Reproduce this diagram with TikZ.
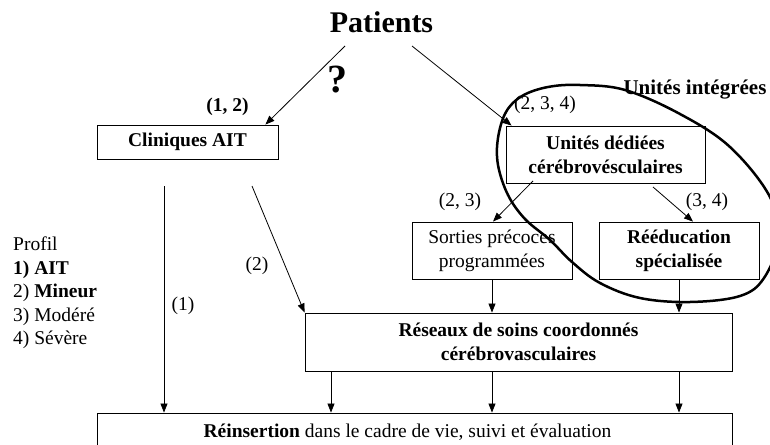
\documentclass[tikz,border=0pt]{standalone}
\usepackage{fontspec}
\setmainfont{Liberation Serif}
\usetikzlibrary{arrows.meta}
\begin{document}
\begin{tikzpicture}[x=1pt,y=-1pt,
  box/.style={draw, line width=0.9pt, inner sep=0pt, align=center, font=\fontsize{19.5}{24}\selectfont},
  arr/.style={line width=0.8pt, -{Triangle[length=9pt,width=7pt]}},
  lbl/.style={inner sep=0pt, anchor=base, font=\fontsize{19.5}{24}\selectfont},
  prof/.style={inner sep=0pt, anchor=base west, font=\fontsize{19.5}{24}\selectfont},
  ring/.style={line width=2.5pt},
]
\useasboundingbox (0,0) rectangle (770,444);
\clip (0,0) rectangle (770,444);

% boxes
\node[box, minimum width=181pt, minimum height=34pt] (clin) at (187.5,142) {\textbf{Cliniques AIT}};
\node[box, minimum width=199pt, minimum height=57pt] (unit) at (605.5,154.5) {\textbf{Unités dédiées}\\\textbf{cérébrovésculaires}};
\node[box, minimum width=160pt, minimum height=57pt] (sort) at (492,250.5) {Sorties précoces\\programmées};
\node[box, minimum width=160pt, minimum height=57pt] (reed) at (679,250.5) {\textbf{Rééducation}\\\textbf{spécialisée}};
\node[box, minimum width=427pt, minimum height=58pt] (res) at (518.5,342) {\textbf{Réseaux de soins coordonnés}\\\textbf{cérébrovasculaires}};
\node[box, minimum width=635pt, minimum height=39pt] (rein) at (414.5,432.5) {\textbf{Réinsertion} dans le cadre de vie, suivi et évaluation\hspace*{14pt}};

% titles and labels
\node[inner sep=0pt, anchor=base, font=\fontsize{30}{34}\selectfont\bfseries] (pat) at (381.5,33) {Patients};
\node[inner sep=0pt, anchor=base, font=\fontsize{40}{44}\selectfont\bfseries] (qm) at (337,92) {?};
\node[lbl] (l12) at (227.5,111) {\textbf{(1, 2)}};
\node[lbl] (l234) at (545,109) {(2, 3, 4)};
\node[lbl, font=\fontsize{21}{24}\selectfont\bfseries] (ui) at (695,94) {Unités intégrées};
\node[lbl] (l23) at (460,206) {(2, 3)};
\node[lbl] (l34) at (707,206) {(3, 4)};
\node[lbl] (l1) at (183,310) {(1)};
\node[lbl] (l2) at (257,270) {(2)};

% profile legend
\node[prof] (pr0) at (13,250) {Profil};
\node[prof] (pr1) at (13,274) {\textbf{1) AIT}};
\node[prof] (pr2) at (13,297.5) {2) \textbf{Mineur}};
\node[prof] (pr3) at (13,321) {3) Modéré};
\node[prof] (pr4) at (13,344.5) {4) Sévère};

% free ends
\coordinate (p1s) at (345,46);
\coordinate (p2s) at (412,46);
\coordinate (c1s) at (164,186);
\coordinate (c2s) at (252,186);
\coordinate (u1s) at (533,181);
\coordinate (u2s) at (653,187);
\coordinate (x331) at (331,0);

% connectors
\draw[arr] (p1s) -- ([xshift=-13pt]clin.north east);
\draw[arr] (p2s) -- ([xshift=6pt]unit.north west);
\draw[arr] (u1s) -- ([xshift=1pt]sort.north);
\draw[arr] (u2s) -- ([xshift=14pt]reed.north);
\draw[arr] (c1s) -- (c1s |- rein.north);
\draw[arr] (c2s) -- (res.north west);
\draw[arr] (sort.south) -- (sort.south |- res.north);
\draw[arr] (reed.south) -- (reed.south |- res.north);
\draw[arr] (x331 |- res.south) -- (x331 |- rein.north);
\draw[arr] (sort.south |- res.south) -- (sort.south |- rein.north);
\draw[arr] (reed.south |- res.south) -- (reed.south |- rein.north);

% integrated units ring
\draw[ring] plot[smooth cycle, tension=0.6] coordinates {
  (580,85) (625,90) (680,114) (730,147) (770,197) (778,240) (764,278)
  (740,296) (690,302) (640,298) (600,283) (572,262) (550,240) (525,219)
  (508,195) (498,165) (498,138) (506,112) (522,96) (548,87)};
\end{tikzpicture}
\end{document}
